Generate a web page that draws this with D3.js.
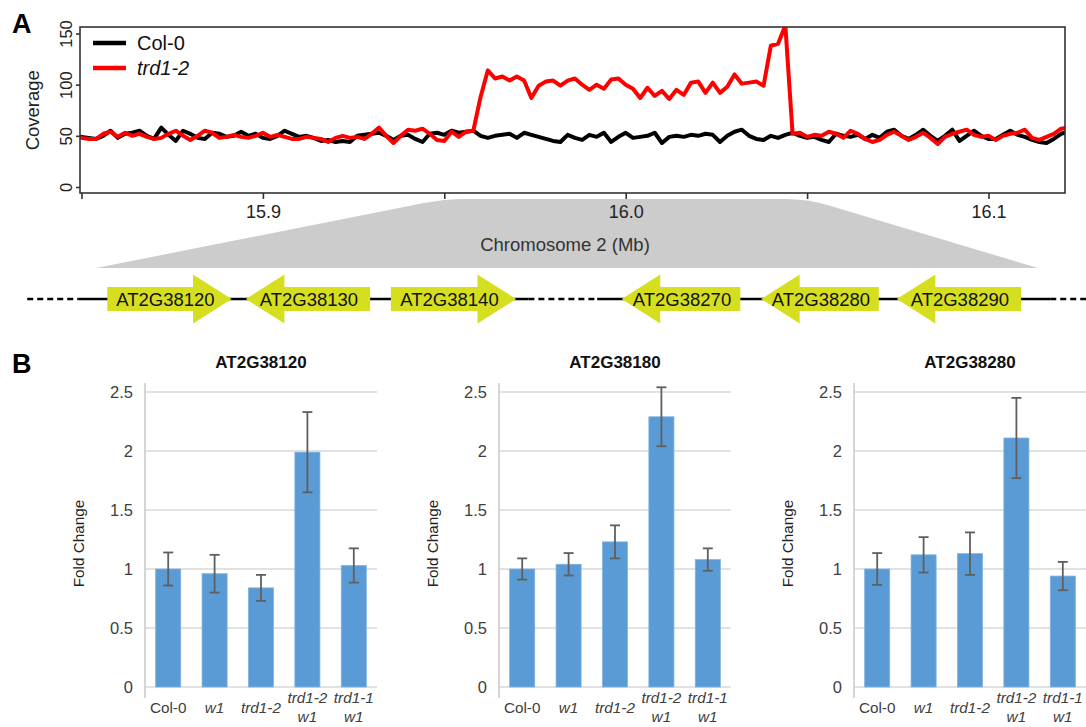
<!DOCTYPE html>
<html><head><meta charset="utf-8">
<script src="https://cdn.jsdelivr.net/npm/d3@7"></script>
<style>
html,body{margin:0;padding:0;background:#fff;}
svg{display:block;font-family:"Liberation Sans",Arial,Helvetica,sans-serif;}
</style></head>
<body>
<svg id="chart" width="1086" height="727"></svg>
<script>
// ---------------- DATA ----------------
// Panel A: read coverage along Chromosome 2 (Mb), sampled every 0.002 Mb from 15.850
const covStartMb = 15.850;
const covStepMb = 0.002;
const coverageCol0 = [
 49,48,47,50,55,48,52,53,55,50,47,58,51,45,55,52,48,47,53,52,49,50,54,50,52,48,47,50,55,52,49,50,48,45,46,
 44,45,44,50,51,52,53,50,46,50,51,47,44,52,53,51,55,53,54,55,50,48,
 50,51,52,48,53,51,49,47,45,44,51,48,46,51,49,53,44,49,53,48,49,50,53,43,49,50,49,51,50,52,51,44,50,54,56,50,47,46,50,48,51,53,50,48,
 49,46,44,52,50,49,51,47,51,48,54,56,50,47,51,56,50,45,50,56,45,50,55,50,47,47,51,55,51,49,46,44,43,47,52,54
];
const coverageTrd12 = [
 48,47,47,52,54,49,53,50,52,49,47,48,52,55,50,46,50,55,53,48,49,51,49,48,50,53,49,51,49,47,47,49,48,47,44,
 48,50,48,49,47,52,58,50,43,50,56,55,57,52,46,45,54,49,54,55,88,
 114,106,108,104,108,104,87,99,103,104,99,104,106,
 100,95,100,96,105,106,100,96,87,97,89,94,86,95,90,102,103,92,102,92,98,110,101,102,103,99,138,140,158,
 52,53,49,51,50,54,52,48,55,52,47,44,46,51,54,50,46,49,53,48,42,49,52,54,56,51,49,50,46,50,52,53,56,48,46,49,52,57,58
];
const seriesNames = ["Col-0", "trd1-2"];
const seriesColors = ["#000000", "#ff0000"];
const covYTicks = [0, 50, 100, 150];
const covXTicks = [15.85, 15.90, 15.95, 16.00, 16.05, 16.10];
const covXLabeled = [15.9, 16.0, 16.1];
const zoomRegionMb = [15.95, 16.05];

// Gene track (schematic, kb offset from 15.95 Mb)
const geneNames  = ["AT2G38120","AT2G38130","AT2G38140","AT2G38270","AT2G38280","AT2G38290"];
const geneStart  = [1.2, 15.9, 31.3, 55.8, 70.6, 85.0];
const geneEnd    = [14.4, 29.1, 44.6, 68.4, 83.1, 98.2];
const geneStrand = ["+","-","+","-","-","-"];
const solidSegments = [[-1.9, 45.9], [53.2, 101.3]];
const dashedSegments = [[-7.3, -1.9], [45.9, 53.2], [101.3, 105.6]];

// Panel B: qRT-PCR fold change
const bCategories = ["Col-0", "w1", "trd1-2", "trd1-2 w1", "trd1-1 w1"];
const bCatLines   = [["Col-0"], ["w1"], ["trd1-2"], ["trd1-2","w1"], ["trd1-1","w1"]];
const bCatItalic  = [false, true, true, true, true];
const bTitles = ["AT2G38120", "AT2G38180", "AT2G38280"];
const bValues = [
  [1.00, 0.96, 0.84, 1.99, 1.03],
  [1.00, 1.04, 1.23, 2.29, 1.08],
  [1.00, 1.12, 1.13, 2.11, 0.94]
];
const bErrors = [
  [0.14, 0.16, 0.11, 0.34, 0.145],
  [0.09, 0.095, 0.14, 0.25, 0.095],
  [0.135, 0.15, 0.18, 0.34, 0.12]
];
const bYTicks = [0, 0.5, 1, 1.5, 2, 2.5];

// ---------------- DRAW ----------------
const svg = d3.select("#chart");
const FONT = '"Liberation Sans",Arial,Helvetica,sans-serif';

// Panel labels
svg.append("text").attr("x", 12).attr("y", 33).attr("font-size", 27).attr("font-weight", "bold").attr("fill", "#000").text("A");
svg.append("text").attr("x", 12).attr("y", 373).attr("font-size", 27).attr("font-weight", "bold").attr("fill", "#000").text("B");

// --- Panel A coverage ---
const box = {left: 80, right: 1065, top: 27, bottom: 193};
const covX = d3.scaleLinear().domain([15.85, 16.0]).range([81.5, 625.7]);
const covY = d3.scaleLinear().domain([0, 150]).range([187, 33.5]);

svg.append("defs").append("clipPath").attr("id", "covclip")
  .append("rect").attr("x", box.left).attr("y", box.top)
  .attr("width", box.right - box.left).attr("height", box.bottom - box.top);

// zoom trapezoid (drawn below axis)
const geneX = d3.scaleLinear().domain([0, 100]).range([96, 1038]);
{
  const topY = 199, botY = 268, r = 22;
  const tl = [covX(zoomRegionMb[0]), topY], tr = [covX(zoomRegionMb[1]), topY];
  const bl = [geneX(0), botY], br = [geneX(100), botY];
  const unit = (a, b) => { const dx = b[0]-a[0], dy = b[1]-a[1], l = Math.hypot(dx, dy); return [dx/l, dy/l]; };
  const uL = unit(tl, bl), uR = unit(tr, br);
  const p = d3.path();
  p.moveTo(bl[0], bl[1]);
  p.lineTo(tl[0] + uL[0]*r, tl[1] + uL[1]*r);
  p.quadraticCurveTo(tl[0], tl[1], tl[0] + r, tl[1]);
  p.lineTo(tr[0] - r, tr[1]);
  p.quadraticCurveTo(tr[0], tr[1], tr[0] + uR[0]*r, tr[1] + uR[1]*r);
  p.lineTo(br[0], br[1]);
  p.closePath();
  svg.append("path").attr("d", p.toString()).attr("fill", "#cccccc");
}

// lines
const covG = svg.append("g").attr("clip-path", "url(#covclip)");
const line = d3.line().x((d, i) => covX(covStartMb + i * covStepMb)).y(d => covY(d));
[coverageCol0, coverageTrd12].forEach((s, k) => {
  covG.append("path").datum(s).attr("d", line)
    .attr("fill", "none").attr("stroke", seriesColors[k])
    .attr("stroke-width", 4).attr("stroke-linejoin", "round").attr("stroke-linecap", "round");
});

// box
svg.append("rect").attr("x", box.left).attr("y", box.top)
  .attr("width", box.right - box.left).attr("height", box.bottom - box.top)
  .attr("fill", "none").attr("stroke", "#333").attr("stroke-width", 1.6);

// x axis
const xAx = svg.append("g").attr("transform", `translate(0,${box.bottom})`)
  .call(d3.axisBottom(covX).tickValues(covXTicks).tickSize(6).tickPadding(6)
    .tickFormat(d => covXLabeled.some(v => Math.abs(v - d) < 1e-6) ? d3.format(".1f")(d) : ""));
xAx.select(".domain").remove();
xAx.selectAll("line").attr("stroke", "#333").attr("stroke-width", 1.6);
xAx.selectAll("text").attr("font-size", 18).attr("font-family", FONT).attr("fill", "#222");

// y axis
const yAx = svg.append("g").attr("transform", `translate(${box.left},0)`)
  .call(d3.axisLeft(covY).tickValues(covYTicks).tickSize(4));
yAx.select(".domain").remove();
yAx.selectAll("line").attr("stroke", "#333").attr("stroke-width", 1.6);
yAx.selectAll("text").attr("font-size", 16.5).attr("font-family", FONT).attr("fill", "#222")
  .attr("transform", "rotate(-90)").attr("x", 0).attr("y", -8).attr("dy", 0)
  .attr("text-anchor", "middle");
svg.append("text").attr("transform", `translate(39,${(covY(0)+covY(150))/2}) rotate(-90)`)
  .attr("text-anchor", "middle").attr("font-size", 18.5).attr("fill", "#222").text("Coverage");

// legend
seriesNames.forEach((n, k) => {
  const y = 43 + k * 25;
  svg.append("line").attr("x1", 93).attr("x2", 126).attr("y1", y).attr("y2", y)
    .attr("stroke", seriesColors[k]).attr("stroke-width", 4.5);
  svg.append("text").attr("x", 137).attr("y", y + 7).attr("font-size", 20)
    .attr("font-style", k === 1 ? "italic" : "normal").attr("fill", "#111").text(n);
});

svg.append("text").attr("x", 565).attr("y", 251)
  .attr("text-anchor", "middle").attr("font-size", 18.5).attr("fill", "#333").text("Chromosome 2 (Mb)");

// --- gene track ---
const trackY = 299;
dashedSegments.forEach(s => {
  svg.append("line").attr("x1", geneX(s[0])).attr("x2", geneX(s[1])).attr("y1", trackY).attr("y2", trackY)
    .attr("stroke", "#000").attr("stroke-width", 2.6).attr("stroke-dasharray", "6,4");
});
solidSegments.forEach(s => {
  svg.append("line").attr("x1", geneX(s[0])).attr("x2", geneX(s[1])).attr("y1", trackY).attr("y2", trackY)
    .attr("stroke", "#000").attr("stroke-width", 2.6);
});
const headKb = 4.1, bodyH = 12, headH = 24.5;
geneNames.forEach((g, i) => {
  const s = geneX(geneStart[i]), e = geneX(geneEnd[i]), hl = geneX(headKb) - geneX(0);
  let pts;
  if (geneStrand[i] === "+") {
    const hb = e - hl;
    pts = [[s, trackY - bodyH], [hb, trackY - bodyH], [hb, trackY - headH], [e, trackY],
           [hb, trackY + headH], [hb, trackY + bodyH], [s, trackY + bodyH]];
  } else {
    const hb = s + hl;
    pts = [[e, trackY - bodyH], [hb, trackY - bodyH], [hb, trackY - headH], [s, trackY],
           [hb, trackY + headH], [hb, trackY + bodyH], [e, trackY + bodyH]];
  }
  svg.append("polygon").attr("points", pts.map(p => p.join(",")).join(" ")).attr("fill", "#d5df1f");
  const cx = (s + e) / 2 + (geneStrand[i] === "+" ? -4 : 1);
  svg.append("text").attr("x", cx).attr("y", trackY + 7).attr("text-anchor", "middle")
    .attr("font-size", 18.5).attr("fill", "#111").text(g);
});

// --- Panel B bars ---
const panelAxisX = [145, 499, 854];
const panelW = 232;
const bY = d3.scaleLinear().domain([0, 2.5]).range([687, 392]);
bTitles.forEach((title, p) => {
  const x0 = panelAxisX[p];
  const bx = d3.scaleBand().domain(bCategories).range([x0, x0 + panelW]).paddingInner(0.46).paddingOuter(0.23);
  const g = svg.append("g");
  // grid
  g.selectAll(".grid").data(bYTicks).enter().append("line")
    .attr("x1", x0).attr("x2", x0 + panelW).attr("y1", d => bY(d)).attr("y2", d => bY(d))
    .attr("stroke", "#d9d9d9").attr("stroke-width", 1.5);
  // axis line
  g.append("line").attr("x1", x0).attr("x2", x0).attr("y1", bY(2.5) - 9).attr("y2", bY(0) + 11)
    .attr("stroke", "#c8c8c8").attr("stroke-width", 1.5);
  // tick labels
  g.selectAll(".yt").data(bYTicks).enter().append("text")
    .attr("x", x0 - 12).attr("y", d => bY(d)).attr("dy", "0.35em").attr("text-anchor", "end")
    .attr("font-size", 16.5).attr("fill", "#404040").text(d => d);
  // title
  g.append("text").attr("x", x0 + panelW / 2).attr("y", 368).attr("text-anchor", "middle")
    .attr("font-size", 17).attr("font-weight", "bold").attr("fill", "#111").text(title);
  // y label
  g.append("text").attr("transform", `translate(${x0 - 61},${(bY(0) + bY(2.5)) / 2 + 4}) rotate(-90)`)
    .attr("text-anchor", "middle").attr("font-size", 15.3).attr("fill", "#222").text("Fold Change");
  // bars
  g.selectAll(".bar").data(bValues[p]).enter().append("rect")
    .attr("x", (d, i) => bx(bCategories[i])).attr("width", bx.bandwidth())
    .attr("y", d => bY(d)).attr("height", d => bY(0) - bY(d))
    .attr("fill", "#5b9bd5").attr("stroke", "#7fb2e0").attr("stroke-width", 0.8);
  // error bars
  bValues[p].forEach((v, i) => {
    const cx = bx(bCategories[i]) + bx.bandwidth() / 2, e = bErrors[p][i];
    const eg = g.append("g").attr("stroke", "#5f5f5f").attr("stroke-width", 1.8);
    eg.append("line").attr("x1", cx).attr("x2", cx).attr("y1", bY(v + e)).attr("y2", bY(v - e));
    eg.append("line").attr("x1", cx - 5).attr("x2", cx + 5).attr("y1", bY(v + e)).attr("y2", bY(v + e));
    eg.append("line").attr("x1", cx - 5).attr("x2", cx + 5).attr("y1", bY(v - e)).attr("y2", bY(v - e));
  });
  // category labels
  bCategories.forEach((c, i) => {
    const cx = bx(c) + bx.bandwidth() / 2;
    const lines = bCatLines[i];
    const t = g.append("text").attr("text-anchor", "middle").attr("font-size", 15.3)
      .attr("fill", "#404040").attr("font-style", bCatItalic[i] ? "italic" : "normal");
    lines.forEach((ln, j) => {
      const yc = 707 + (j - (lines.length - 1) / 2) * 19;
      t.append("tspan").attr("x", cx).attr("y", yc + 5.5).text(ln);
    });
  });
});
</script>
</body></html>
